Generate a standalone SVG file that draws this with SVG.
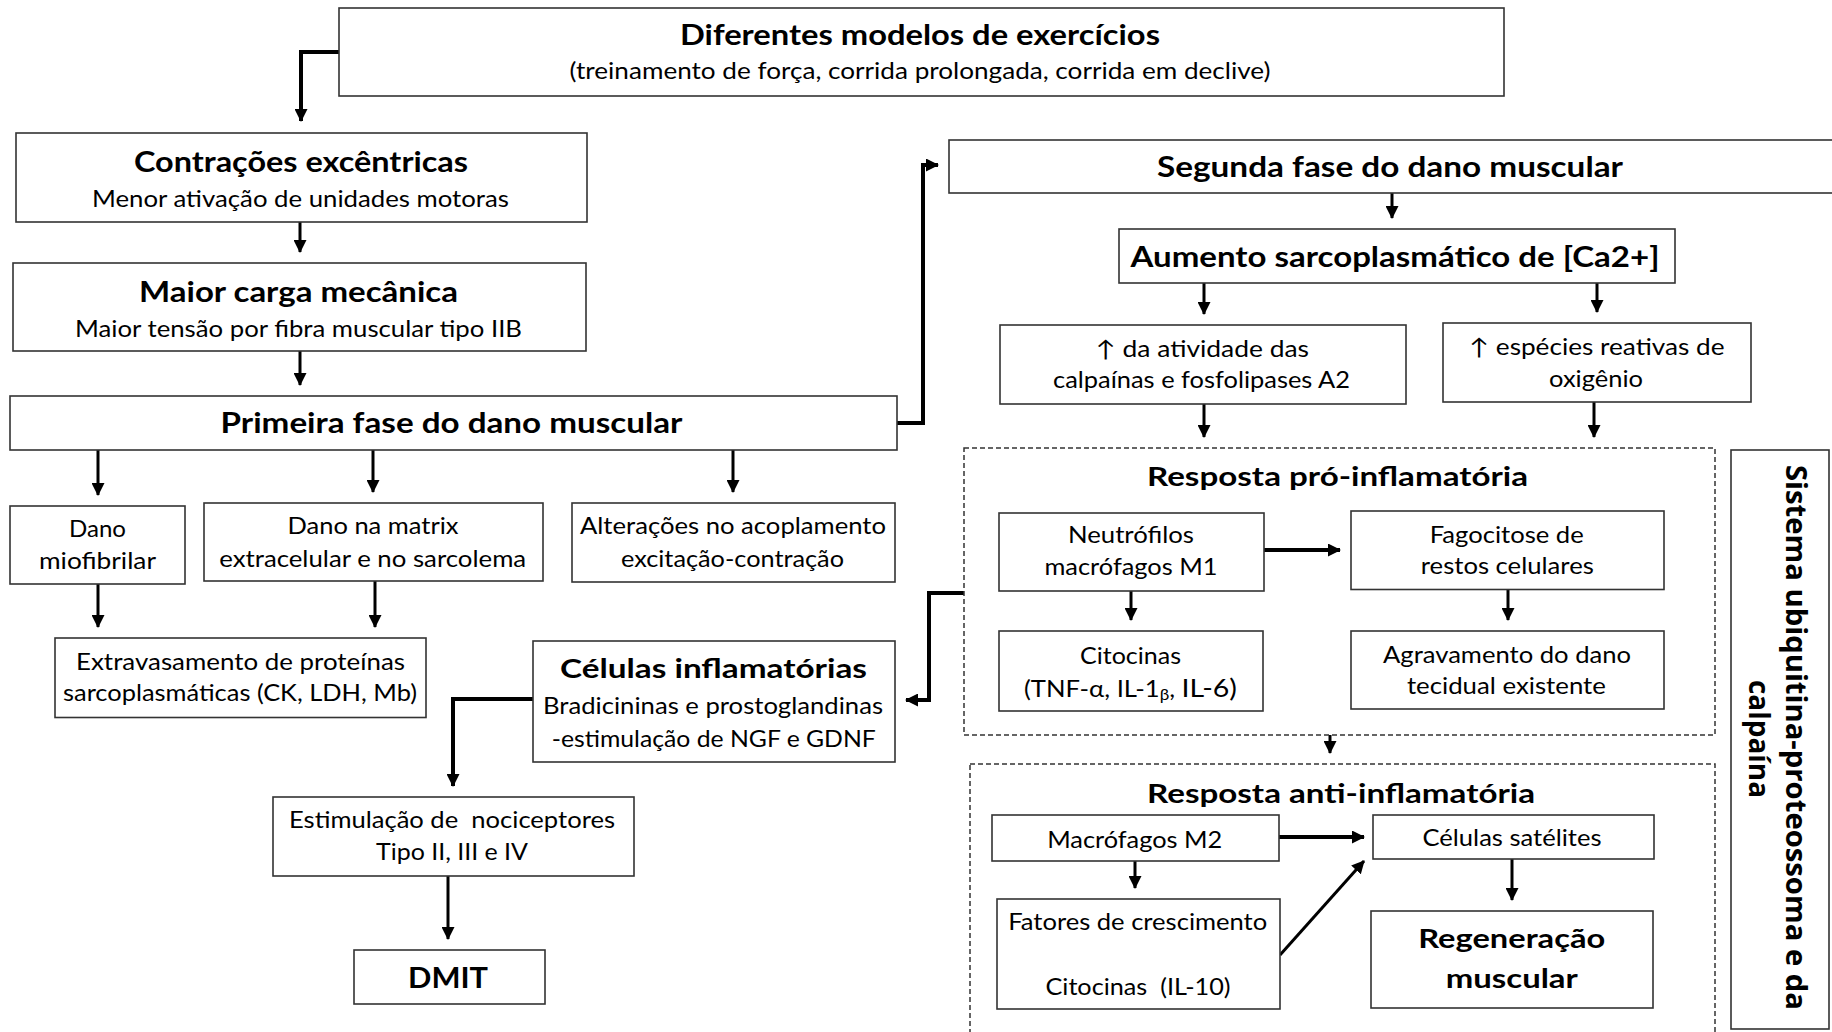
<svg xmlns="http://www.w3.org/2000/svg" width="1832" height="1032" viewBox="0 0 1832 1032">
<style>
.bx{fill:#fff;stroke:#333;stroke-width:1.6}
.dsh{fill:none;stroke:#333;stroke-width:1.5;stroke-dasharray:5 3}
.t{font-family:Lato,"Liberation Sans",sans-serif;font-size:22.5px;fill:#000;text-anchor:middle}
.b{font-family:Lato,"Liberation Sans",sans-serif;font-size:28px;font-weight:700;fill:#000;text-anchor:middle}
.m{font-family:Lato,"Liberation Sans",sans-serif;font-size:26px;font-weight:700;fill:#000;text-anchor:middle}
.c{fill:none;stroke:#000;stroke-width:3}
.c4{fill:none;stroke:#000;stroke-width:4}
.v{font-family:"Open Sans","DejaVu Sans",sans-serif;font-size:29px;font-weight:700;fill:#000;text-anchor:middle}
</style>
<defs>
<marker id="ah" markerUnits="userSpaceOnUse" markerWidth="13" markerHeight="13" refX="12" refY="6.5" orient="auto">
<path d="M0,0 L13,6.5 L0,13 z" fill="#000"/>
</marker>
</defs>
<rect width="1832" height="1032" fill="#fff"/>

<g id="connectors">
<path class="c4" d="M339,52 H301 V121" marker-end="url(#ah)"/>
<path class="c" d="M300,222 V252" marker-end="url(#ah)"/>
<path class="c" d="M300,351 V385" marker-end="url(#ah)"/>
<path class="c4" d="M897,423 H923 V165 H938" marker-end="url(#ah)"/>
<path class="c" d="M98,450 V495" marker-end="url(#ah)"/>
<path class="c" d="M373,450 V492" marker-end="url(#ah)"/>
<path class="c" d="M733,450 V492" marker-end="url(#ah)"/>
<path class="c" d="M98,584 V627" marker-end="url(#ah)"/>
<path class="c" d="M375,581 V627" marker-end="url(#ah)"/>
<path class="c" d="M1392,193 V218" marker-end="url(#ah)"/>
<path class="c" d="M1204,283 V314" marker-end="url(#ah)"/>
<path class="c" d="M1597,283 V312" marker-end="url(#ah)"/>
<path class="c" d="M1204,404 V437" marker-end="url(#ah)"/>
<path class="c" d="M1594,402 V437" marker-end="url(#ah)"/>
<path class="c4" d="M964,593 H929 V700 H906" marker-end="url(#ah)"/>
<path class="c4" d="M533,699 H453 V786" marker-end="url(#ah)"/>
<path class="c" d="M448,876 V939" marker-end="url(#ah)"/>
<path class="c4" d="M1264,550 H1340" marker-end="url(#ah)"/>
<path class="c" d="M1131,591 V620" marker-end="url(#ah)"/>
<path class="c" d="M1508,590 V620" marker-end="url(#ah)"/>
<path class="c" d="M1330,735 V753" marker-end="url(#ah)"/>
<path class="c4" d="M1279,837 H1364" marker-end="url(#ah)"/>
<path class="c" d="M1135,861 V888" marker-end="url(#ah)"/>
<path class="c" d="M1280,955 L1364,861" marker-end="url(#ah)"/>
<path class="c" d="M1512,859 V900" marker-end="url(#ah)"/>
</g>

<g id="n-diferentes">
<rect class="bx" x="339" y="8" width="1165" height="88"/>
<text class="b" x="920" y="45" textLength="480" lengthAdjust="spacingAndGlyphs">Diferentes modelos de exercícios</text>
<text class="t" x="920" y="79" textLength="701" lengthAdjust="spacingAndGlyphs">(treinamento de força, corrida prolongada, corrida em declive)</text>
</g>
<g id="n-contracoes">
<rect class="bx" x="16" y="133" width="571" height="89"/>
<text class="b" x="301" y="172" textLength="334" lengthAdjust="spacingAndGlyphs">Contrações excêntricas</text>
<text class="t" x="300.5" y="207" textLength="417" lengthAdjust="spacingAndGlyphs">Menor ativação de unidades motoras</text>
</g>
<g id="n-maior-carga">
<rect class="bx" x="13" y="263" width="573" height="88"/>
<text class="b" x="298.5" y="302" textLength="319" lengthAdjust="spacingAndGlyphs">Maior carga mecânica</text>
<text class="t" x="298.5" y="337" textLength="447" lengthAdjust="spacingAndGlyphs">Maior tensão por fibra muscular tipo IIB</text>
</g>
<g id="n-primeira">
<rect class="bx" x="10" y="396" width="887" height="54"/>
<text class="b" x="451.5" y="433" textLength="462" lengthAdjust="spacingAndGlyphs">Primeira fase do dano muscular</text>
</g>
<g id="n-segunda">
<rect class="bx" x="949" y="140" width="900" height="53"/>
<text class="b" x="1390" y="177" textLength="466" lengthAdjust="spacingAndGlyphs">Segunda fase do dano muscular</text>
</g>
<g id="n-aumento">
<rect class="bx" x="1119" y="229" width="556" height="54"/>
<text class="b" x="1395" y="267" textLength="529" lengthAdjust="spacingAndGlyphs">Aumento sarcoplasmático de [Ca2+]</text>
</g>
<g id="n-calpainas">
<rect class="bx" x="1000" y="325" width="406" height="79"/>
<text class="t" x="1202.5" y="357" textLength="213" lengthAdjust="spacingAndGlyphs">↑ da atividade das</text>
<text class="t" x="1201.5" y="388" textLength="297" lengthAdjust="spacingAndGlyphs">calpaínas e fosfolipases A2</text>
</g>
<g id="n-especies">
<rect class="bx" x="1443" y="323" width="308" height="79"/>
<text class="t" x="1597" y="355" textLength="255" lengthAdjust="spacingAndGlyphs">↑ espécies reativas de</text>
<text class="t" x="1596" y="387" textLength="94" lengthAdjust="spacingAndGlyphs">oxigênio</text>
</g>
<g id="n-dano-miofibrilar">
<rect class="bx" x="10" y="506" width="175" height="78"/>
<text class="t" x="97.5" y="537" textLength="57" lengthAdjust="spacingAndGlyphs">Dano</text>
<text class="t" x="97.5" y="569" textLength="117" lengthAdjust="spacingAndGlyphs">miofibrilar</text>
</g>
<g id="n-dano-matrix">
<rect class="bx" x="204" y="503" width="339" height="78"/>
<text class="t" x="373" y="534" textLength="171" lengthAdjust="spacingAndGlyphs">Dano na matrix</text>
<text class="t" x="372.7" y="566.5" textLength="307" lengthAdjust="spacingAndGlyphs">extracelular e no sarcolema</text>
</g>
<g id="n-alteracoes">
<rect class="bx" x="572" y="503" width="323" height="79"/>
<text class="t" x="733" y="534" textLength="306" lengthAdjust="spacingAndGlyphs">Alterações no acoplamento</text>
<text class="t" x="732.5" y="566.5" textLength="223" lengthAdjust="spacingAndGlyphs">excitação-contração</text>
</g>
<g id="n-extravasamento">
<rect class="bx" x="55" y="638" width="371" height="79.5"/>
<text class="t" x="240.5" y="670" textLength="329" lengthAdjust="spacingAndGlyphs">Extravasamento de proteínas</text>
<text class="t" x="240" y="701" textLength="354" lengthAdjust="spacingAndGlyphs">sarcoplasmáticas (CK, LDH, Mb)</text>
</g>
<g id="n-celulas-inflamatorias">
<rect class="bx" x="533" y="641" width="362" height="121"/>
<text class="m" x="713.5" y="678" textLength="307" lengthAdjust="spacingAndGlyphs">Células inflamatórias</text>
<text class="t" x="713" y="713.5" textLength="340" lengthAdjust="spacingAndGlyphs">Bradicininas e prostoglandinas</text>
<text class="t" x="713.8" y="746.5" textLength="324" lengthAdjust="spacingAndGlyphs">-estimulação de NGF e GDNF</text>
</g>
<g id="n-estimulacao">
<rect class="bx" x="273" y="797" width="361" height="79"/>
<text class="t" x="452" y="828" textLength="326" lengthAdjust="spacingAndGlyphs" xml:space="preserve">Estimulação de  nociceptores</text>
<text class="t" x="452" y="860" textLength="152" lengthAdjust="spacingAndGlyphs">Tipo II, III e IV</text>
</g>
<g id="n-dmit">
<rect class="bx" x="354" y="950" width="191" height="54"/>
<text class="b" x="448" y="987.5" textLength="80" lengthAdjust="spacingAndGlyphs">DMIT</text>
</g>

<g id="n-resposta-pro">
<rect class="dsh" x="964" y="448" width="751" height="287"/>
<text class="m" x="1337.5" y="486" textLength="381" lengthAdjust="spacingAndGlyphs">Resposta pró-inflamatória</text>
</g>
<g id="n-neutrofilos">
<rect class="bx" x="999" y="513" width="265" height="78"/>
<text class="t" x="1131" y="542.7" textLength="126" lengthAdjust="spacingAndGlyphs">Neutrófilos</text>
<text class="t" x="1131" y="575" textLength="173" lengthAdjust="spacingAndGlyphs">macrófagos M1</text>
</g>
<g id="n-fagocitose">
<rect class="bx" x="1351" y="511" width="313" height="78.5"/>
<text class="t" x="1506.7" y="542.7" textLength="154" lengthAdjust="spacingAndGlyphs">Fagocitose de</text>
<text class="t" x="1507.3" y="574" textLength="173" lengthAdjust="spacingAndGlyphs">restos celulares</text>
</g>
<g id="n-citocinas">
<rect class="bx" x="999" y="631" width="264" height="80"/>
<text class="t" x="1130.5" y="663.5" textLength="101" lengthAdjust="spacingAndGlyphs">Citocinas</text>
<text class="t" x="1130.4" y="696.7" textLength="213" lengthAdjust="spacingAndGlyphs">(TNF-α, IL-1<tspan font-size="15" dy="3">β</tspan><tspan dy="-3">, </tspan><tspan font-size="25">IL-6)</tspan></text>
</g>
<g id="n-agravamento">
<rect class="bx" x="1351" y="631" width="313" height="78"/>
<text class="t" x="1507" y="662.8" textLength="248" lengthAdjust="spacingAndGlyphs">Agravamento do dano</text>
<text class="t" x="1506.4" y="693.7" textLength="199" lengthAdjust="spacingAndGlyphs">tecidual existente</text>
</g>

<g id="n-resposta-anti">
<rect class="dsh" x="970" y="764" width="745" height="290"/>
<text class="m" x="1341" y="802.5" textLength="388" lengthAdjust="spacingAndGlyphs">Resposta anti-inflamatória</text>
</g>
<g id="n-macrofagos-m2">
<rect class="bx" x="992" y="815" width="287" height="46"/>
<text class="t" x="1134.7" y="847.8" textLength="175" lengthAdjust="spacingAndGlyphs">Macrófagos M2</text>
</g>
<g id="n-celulas-satelites">
<rect class="bx" x="1373" y="815" width="281" height="44"/>
<text class="t" x="1512" y="846" textLength="179" lengthAdjust="spacingAndGlyphs">Células satélites</text>
</g>
<g id="n-fatores">
<rect class="bx" x="997" y="899" width="283" height="110"/>
<text class="t" x="1137.7" y="929.7" textLength="259" lengthAdjust="spacingAndGlyphs">Fatores de crescimento</text>
<text class="t" x="1138" y="995" textLength="185" lengthAdjust="spacingAndGlyphs" xml:space="preserve">Citocinas  (IL-10)</text>
</g>
<g id="n-regeneracao">
<rect class="bx" x="1371" y="911" width="282" height="97"/>
<text class="m" x="1511.7" y="947.8" textLength="187" lengthAdjust="spacingAndGlyphs">Regeneração</text>
<text class="m" x="1511.8" y="987.5" textLength="132" lengthAdjust="spacingAndGlyphs">muscular</text>
</g>

<g id="n-sistema">
<rect class="bx" x="1731" y="450" width="98" height="579"/>
<text class="v" transform="translate(1786,737.5) rotate(90)" textLength="545" lengthAdjust="spacingAndGlyphs">Sistema ubiquitina-proteossoma e da</text>
<text class="v" transform="translate(1749,739) rotate(90)" textLength="118" lengthAdjust="spacingAndGlyphs">calpaína</text>
</g>
</svg>
